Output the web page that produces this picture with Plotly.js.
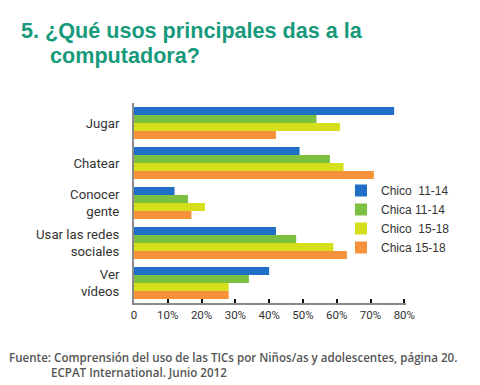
<!DOCTYPE html>
<html>
<head>
<meta charset="utf-8">
<script src="https://cdn.plot.ly/plotly-3.0.1.min.js"></script>
<style>html,body{margin:0;padding:0;background:#fff;}#chart{width:480px;height:385px;}</style>
</head>
<body>
<div id="chart"></div>
<script>
const categories = ['Jugar', 'Chatear', 'Conocer<br>gente', 'Usar las redes<br>sociales', 'Ver<br>vídeos'];
const seriesNames = ['Chico  11-14', 'Chica 11-14', 'Chico  15-18', 'Chica 15-18'];
const chico1114 = [77, 49, 12, 42, 40];
const chica1114 = [54, 58, 16, 48, 34];
const chico1518 = [61, 62, 21, 59, 28];
const chica1518 = [42, 71, 17, 63, 28];
const tickValues = [0, 10, 20, 30, 40, 50, 60, 70, 80];
const tickLabels = ['0', '10%', '20%', '30%', '40%', '50%', '60%', '70%', '80%'];
const titleLine1 = '5. ¿Qué usos principales das a la';
const titleLine2 = 'computadora?';
const sourceLine1 = 'Fuente: Comprensión del uso de las TICs por Niños/as y adolescentes, página 20.';
const sourceLine2 = 'ECPAT International. Junio 2012';

const colors = ['#1f6fc6', '#7cbf41', '#d4e01c', '#f5923a'];
const values = [chico1114, chica1114, chico1518, chica1518];

const traces = values.map((v, i) => ({
  type: 'bar',
  orientation: 'h',
  y: categories,
  x: v,
  name: seriesNames[i],
  marker: {color: colors[i], line: {width: 0}},
  hoverinfo: 'x+name'
}));

// pixel -> paper helpers
const L = 134, R = 74, T = 103, B = 82, W = 480, H = 385;
const px = x => (x - L) / (W - L - R);
const py = y => (H - B - y) / (H - T - B);

const layout = {
  width: W, height: H,
  margin: {l: L, r: R, t: T, b: B, pad: 0},
  paper_bgcolor: '#fff', plot_bgcolor: '#fff',
  barmode: 'group', bargap: 0.2, bargroupgap: 0,
  showlegend: true,
  legend: {
    x: px(341), y: py(176), xanchor: 'left', yanchor: 'top',
    font: {family: 'Liberation Sans, Arial, sans-serif', size: 12, color: '#333'},
    bgcolor: 'rgba(0,0,0,0)', traceorder: 'normal'
  },
  xaxis: {
    range: [0, 80.5], tickvals: tickValues, ticktext: tickLabels,
    showgrid: false, zeroline: false,
    showline: true, linecolor: '#8a8a8a', linewidth: 2,
    ticks: 'inside', ticklen: 4, tickwidth: 2, tickcolor: '#111',
    tickfont: {family: 'Roboto, Arial, sans-serif', size: 11.5, color: '#333'},
    fixedrange: true
  },
  yaxis: {
    autorange: 'reversed', showgrid: false, zeroline: false,
    showline: true, linecolor: '#8a8a8a', linewidth: 2,
    ticks: '', ticklabelstandoff: 10,
    tickfont: {family: 'Roboto, Arial, sans-serif', size: 13.2, color: '#333'},
    fixedrange: true
  },
  annotations: [
    {xref: 'paper', yref: 'paper', x: px(19), y: py(30), xanchor: 'left', yanchor: 'middle', showarrow: false,
     text: '<b>' + titleLine1 + '</b>', font: {family: 'Liberation Sans, Arial, sans-serif', size: 21.6, color: '#179a7b'}},
    {xref: 'paper', yref: 'paper', x: px(48), y: py(55), xanchor: 'left', yanchor: 'middle', showarrow: false,
     text: '<b>' + titleLine2 + '</b>', font: {family: 'Liberation Sans, Arial, sans-serif', size: 21.6, color: '#179a7b'}},
    {xref: 'paper', yref: 'paper', x: px(7), y: py(357), xanchor: 'left', yanchor: 'middle', showarrow: false,
     text: sourceLine1, font: {family: 'Open Sans, sans-serif', size: 11.6, color: '#555', weight: 600}},
    {xref: 'paper', yref: 'paper', x: px(49), y: py(372), xanchor: 'left', yanchor: 'middle', showarrow: false,
     text: sourceLine2, font: {family: 'Open Sans, sans-serif', size: 11.6, color: '#555', weight: 600}}
  ]
};

Plotly.newPlot('chart', traces, layout, {displayModeBar: false, staticPlot: true});
</script>
</body>
</html>
